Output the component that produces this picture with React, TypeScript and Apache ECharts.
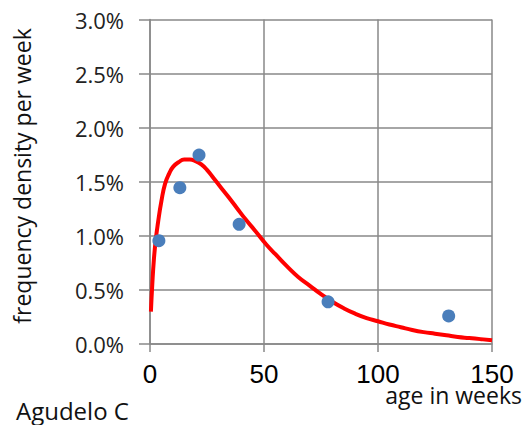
import React, { useEffect, useRef } from "react";
import * as echarts from "echarts";

const curveX = [0.4, 1, 1.7, 2.5, 3.5, 5, 6.6, 8.5, 10.2, 12.5, 15, 17.5, 20, 22.5, 25, 28, 31, 34, 38, 42, 46, 51, 55, 60, 65, 70, 75, 80, 85, 90, 95, 100, 105, 110, 115, 120, 125, 130, 135, 140, 145, 150];
const curveY = [0.3, 0.55, 0.78, 0.96, 1.12, 1.32, 1.48, 1.58, 1.64, 1.68, 1.705, 1.705, 1.69, 1.66, 1.61, 1.53, 1.45, 1.37, 1.26, 1.15, 1.05, 0.92, 0.83, 0.72, 0.62, 0.54, 0.46, 0.39, 0.33, 0.28, 0.24, 0.21, 0.18, 0.155, 0.13, 0.11, 0.095, 0.08, 0.065, 0.055, 0.045, 0.035];
const pointX = [3.9, 13.1, 21.5, 39.1, 78.1, 131];
const pointY = [0.955, 1.445, 1.747, 1.106, 0.39, 0.259];
const xTicks = [0, 50, 100, 150];
const yMax = 3.0;
const yStep = 0.5;

export default function App() {
  const ref = useRef<HTMLDivElement>(null);
  useEffect(() => {
    const chart = echarts.init(ref.current!, null, { renderer: "svg" });
    const grey = "#888888";
    chart.setOption({
      animation: false,
      backgroundColor: "#ffffff",
      grid: { left: 150, right: 34, top: 19.5, bottom: 81, containLabel: false },
      xAxis: {
        type: "value",
        min: xTicks[0],
        max: xTicks[xTicks.length - 1],
        interval: 50,
        axisLine: { show: true, lineStyle: { color: grey, width: 1.5 } },
        axisTick: { show: true, length: 8, lineStyle: { color: grey, width: 1.5 } },
        splitLine: { show: true, lineStyle: { color: grey, width: 1.5 } },
        axisLabel: { color: "#000", fontSize: 26, fontFamily: "Liberation Sans", margin: 17 },
      },
      yAxis: {
        type: "value",
        min: 0,
        max: yMax,
        interval: yStep,
        axisLine: { show: true, lineStyle: { color: grey, width: 1.5 } },
        axisTick: { show: true, length: 11, lineStyle: { color: grey, width: 1.5 } },
        splitLine: { show: true, lineStyle: { color: grey, width: 1.5 } },
        axisLabel: {
          color: "#222",
          fontSize: 22,
          fontFamily: "Open Sans",
          margin: 26,
          formatter: (v: number) => v.toFixed(1) + "%",
        },
      },
      graphic: [
        {
          type: "text",
          x: 22,
          y: 176,
          rotation: Math.PI / 2,
          style: {
            text: "frequency density per week",
            fontSize: 23,
            fontFamily: "Open Sans",
            fill: "#111",
            textAlign: "center",
            textVerticalAlign: "middle",
          },
        },
        {
          type: "text",
          x: 522,
          y: 395,
          style: {
            text: "age in weeks",
            fontSize: 23,
            fontFamily: "Open Sans",
            fill: "#111",
            textAlign: "right",
            textVerticalAlign: "middle",
          },
        },
        {
          type: "text",
          x: 16,
          y: 410,
          style: {
            text: "Agudelo C",
            fontSize: 24,
            fontFamily: "Open Sans",
            fill: "#111",
            textAlign: "left",
            textVerticalAlign: "middle",
          },
        },
      ],
      series: [
        {
          type: "line",
          data: curveX.map((x, i) => [x, curveY[i]]),
          smooth: true,
          showSymbol: false,
          lineStyle: { color: "#ff0000", width: 4 },
          z: 3,
        },
        {
          type: "scatter",
          data: pointX.map((x, i) => [x, pointY[i]]),
          symbolSize: 13,
          itemStyle: { color: "#4a7ebb", opacity: 1 },
          z: 4,
        },
      ],
    });
    return () => chart.dispose();
  }, []);
  return <div ref={ref} style={{ width: 526, height: 425, position: "absolute", left: 0, top: 0 }} />;
}
